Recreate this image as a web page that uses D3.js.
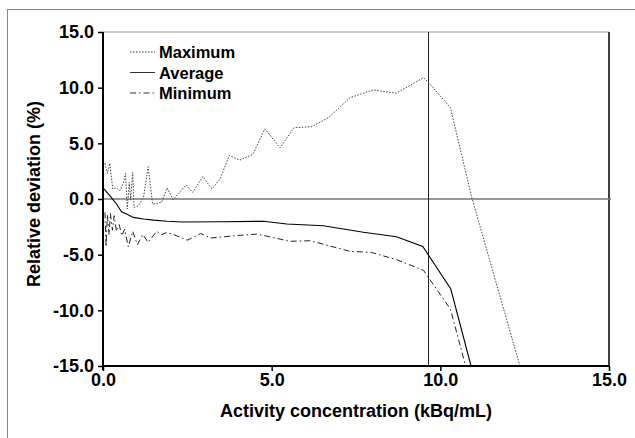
<!DOCTYPE html>
<html>
<head>
  <meta charset="utf-8">
  <script src="https://cdn.jsdelivr.net/npm/d3@7"></script>
  <style>
    body { margin: 0; background: #fff; }
    text { font-family: "Liberation Sans", Arial, sans-serif; font-weight: bold; }
  </style>
</head>
<body>
<script>
  // values: [activity, deviation]
  const maximum = [[0.06,3.2],[0.13,2.3],[0.2,3.2],[0.29,0.9],[0.4,1.0],[0.5,0.75],[0.6,1.4],[0.67,2.3],[0.72,-0.9],
    [0.78,1.5],[0.82,-0.1],[0.88,2.4],[0.92,-0.75],[1.05,-0.6],[1.2,0.15],[1.34,2.9],[1.47,-0.45],[1.74,-0.3],
    [1.9,1.0],[2.08,-0.06],[2.46,1.26],[2.66,0.6],[2.96,2.0],[3.23,0.9],[3.47,1.8],[3.74,3.9],[4.06,3.5],[4.44,4.0],
    [4.8,6.3],[5.25,4.6],[5.66,6.4],[6.19,6.5],[6.68,7.3],[7.32,9.1],[8.01,9.8],[8.7,9.5],[9.5,10.9],[9.7,10.3],
    [10.3,8.2],[10.93,0.15],[12.36,-15]];
  const average = [[0.03,0.9],[0.2,0.3],[0.4,-0.45],[0.55,-1.14],[0.7,-1.35],[0.9,-1.65],[1.2,-1.8],[1.5,-1.9],
    [1.9,-2.0],[2.38,-2.07],[3.5,-2.05],[4.75,-2.0],[5.45,-2.24],[6.53,-2.4],[7.72,-2.99],[8.7,-3.39],[9.48,-4.26],
    [10.31,-8.09],[10.91,-15]];
  const minimum = [[0.06,-1.2],[0.09,-4.3],[0.13,-1.4],[0.18,-3.2],[0.22,-1.3],[0.28,-2.8],[0.33,-1.5],[0.4,-2.9],
    [0.48,-2.3],[0.56,-3.3],[0.64,-2.7],[0.75,-4.3],[0.88,-2.9],[1.02,-4.1],[1.18,-3.2],[1.34,-3.9],[1.59,-2.9],
    [1.74,-3.2],[1.9,-3.0],[2.18,-3.3],[2.5,-3.7],[2.9,-3.1],[3.2,-3.5],[3.9,-3.3],[4.56,-3.15],[4.95,-3.4],
    [5.54,-3.8],[6.14,-3.75],[7.32,-4.7],[7.96,-4.8],[8.7,-5.45],[9.5,-6.4],[10.3,-9.9],[10.75,-15]];
  const xTicks = [0, 5, 10, 15];
  const yTicks = [-15, -10, -5, 0, 5, 10, 15];
  const refX = 9.65;
  const legendNames = ["Maximum", "Average", "Minimum"];

  const w = 635, h = 438;
  const m = { left: 103, right: 609, top: 32, bottom: 366 };

  const x = d3.scaleLinear().domain([0, 15]).range([m.left, m.right]);
  const y = d3.scaleLinear().domain([-15, 15]).range([m.bottom, m.top]);
  const fmt = d => d.toFixed(1);  // plain hyphen minus, as in the picture

  const svg = d3.select("body").append("svg").attr("width", w).attr("height", h);

  // outer frame (only top and left visible)
  svg.append("rect").attr("x", 7.5).attr("y", 9.5).attr("width", 640).attr("height", 440)
    .attr("fill", "none").attr("stroke", "#888").attr("stroke-width", 1);

  svg.append("defs").append("clipPath").attr("id", "plot")
    .append("rect").attr("x", m.left).attr("y", m.top).attr("width", m.right - m.left).attr("height", m.bottom - m.top);

  // plot frame top/right
  svg.append("line").attr("x1", m.left).attr("x2", m.right).attr("y1", m.top).attr("y2", m.top)
    .attr("stroke", "#999").attr("stroke-width", 1);
  svg.append("line").attr("x1", m.right).attr("x2", m.right).attr("y1", m.top).attr("y2", m.bottom)
    .attr("stroke", "#000").attr("stroke-width", 1.5);

  // zero line and reference line
  svg.append("line").attr("x1", m.left).attr("x2", m.right + 2).attr("y1", y(0)).attr("y2", y(0))
    .attr("stroke", "#777").attr("stroke-width", 1.5);
  svg.append("line").attr("x1", x(refX)).attr("x2", x(refX)).attr("y1", m.top).attr("y2", m.bottom)
    .attr("stroke", "#222").attr("stroke-width", 1);

  const line = d3.line().x(d => x(d[0])).y(d => y(d[1]));
  const g = svg.append("g").attr("clip-path", "url(#plot)");
  g.append("path").datum(maximum).attr("d", line).attr("fill", "none")
    .attr("stroke", "#444").attr("stroke-width", 1).attr("stroke-dasharray", "1.5,1.5");
  g.append("path").datum(average).attr("d", line).attr("fill", "none")
    .attr("stroke", "#000").attr("stroke-width", 1.1);
  g.append("path").datum(minimum).attr("d", line).attr("fill", "none")
    .attr("stroke", "#222").attr("stroke-width", 1).attr("stroke-dasharray", "6,3,1.5,3");

  // axes
  const xAxis = svg.append("g").attr("transform", `translate(0,${m.bottom})`)
    .call(d3.axisBottom(x).tickValues(xTicks).tickFormat(fmt).tickSize(5).tickPadding(2));
  const yAxis = svg.append("g").attr("transform", `translate(${m.left},0)`)
    .call(d3.axisLeft(y).tickValues(yTicks).tickFormat(fmt).tickSize(5).tickPadding(4));
  [xAxis, yAxis].forEach(a => {
    a.select(".domain").attr("stroke", "#000").attr("stroke-width", 2);
    a.selectAll(".tick line").attr("stroke", "#000").attr("stroke-width", 1.5);
    a.selectAll(".tick text").attr("fill", "#000").style("font-size", "18px")
      .style("font-family", "'Liberation Sans', Arial, sans-serif").style("font-weight", "bold");
  });
  xAxis.select(".domain").attr("d", `M${m.left},0H${m.right}`);
  yAxis.select(".domain").attr("d", `M0,${m.top}V${m.bottom + 4}`);

  // axis titles
  svg.append("text").attr("x", (m.left + m.right) / 2).attr("y", 417).attr("text-anchor", "middle")
    .style("font-size", "18px").text("Activity concentration (kBq/mL)");
  svg.append("text").attr("transform", `translate(40,${(m.top + m.bottom) / 2 - 5}) rotate(-90)`)
    .attr("text-anchor", "middle").style("font-size", "18px").text("Relative deviation (%)");

  // legend
  const dashes = ["1.5,1.5", null, "6,3,1.5,3"];
  const lg = svg.append("g");
  legendNames.forEach((name, i) => {
    const yy = 52 + i * 20.5;
    lg.append("line").attr("x1", 130).attr("x2", 155).attr("y1", yy).attr("y2", yy)
      .attr("stroke", "#333").attr("stroke-width", 1).attr("stroke-dasharray", dashes[i]);
    lg.append("text").attr("x", 159).attr("y", yy + 6).style("font-size", "16.5px").text(name);
  });
</script>
</body>
</html>
